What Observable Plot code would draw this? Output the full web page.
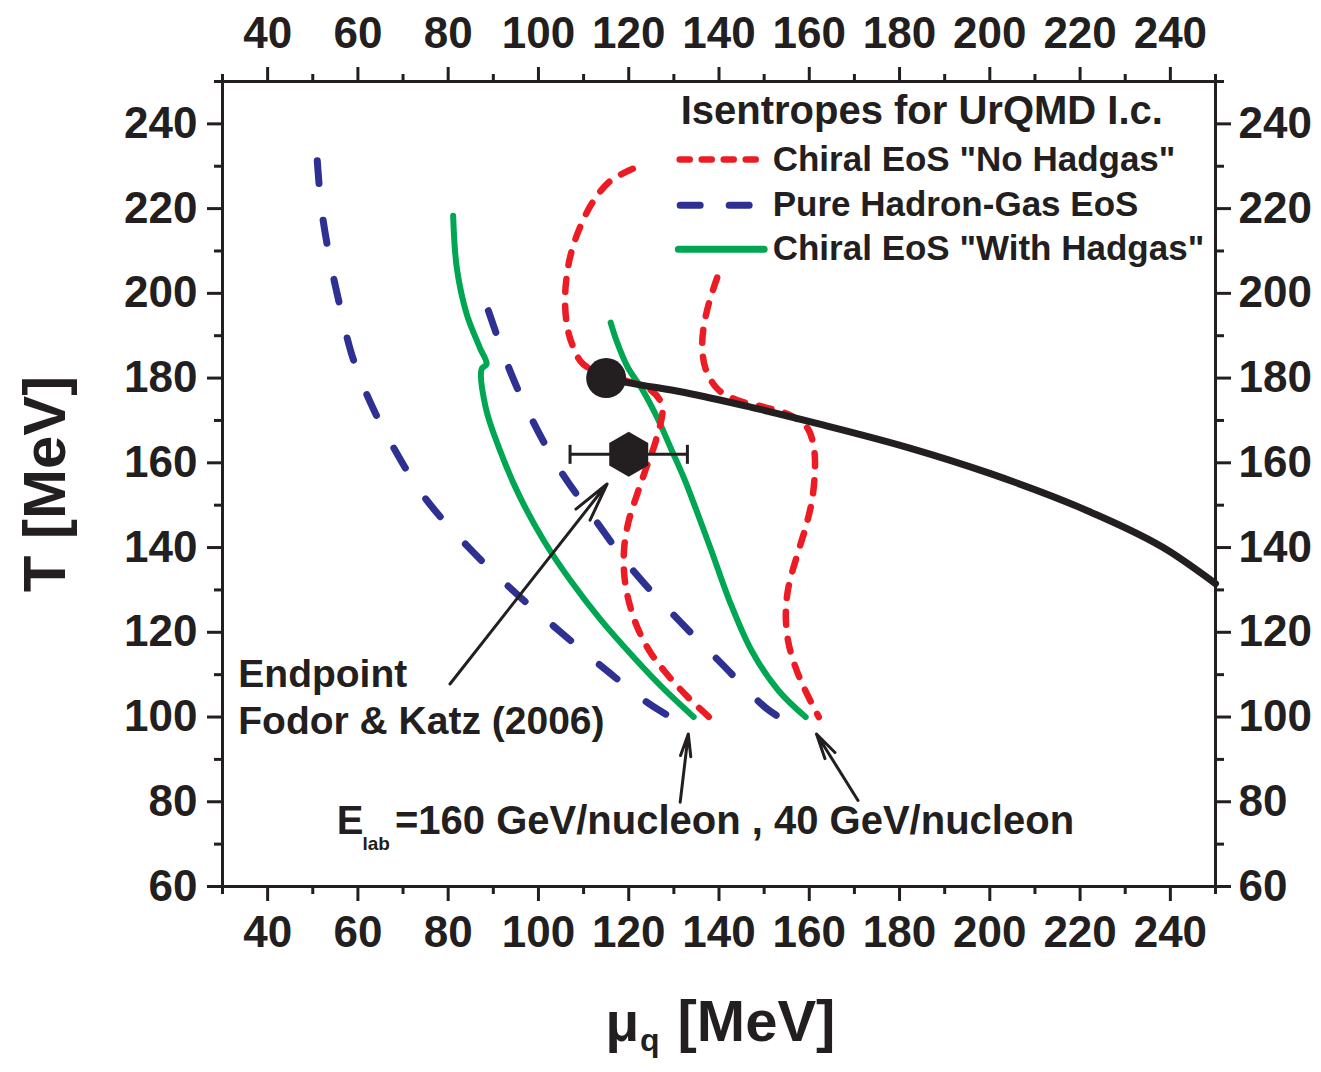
<!DOCTYPE html>
<html>
<head>
<meta charset="utf-8">
<script src="https://cdn.jsdelivr.net/npm/d3@7"></script>
<script src="https://cdn.jsdelivr.net/npm/@observablehq/plot@0.6"></script>
<style>
  html, body { margin: 0; padding: 0; background: #ffffff; }
  #chart svg { display: block; }
</style>
</head>
<body>
<div id="chart"></div>
<script>
// Isentropes in the (mu_q, T) plane for UrQMD initial conditions.
// Each curve is a list of [mu_q (MeV), T (MeV)] pairs.

// Chiral EoS "No Hadgas"
const chiralNoHadgas160 = [[120.9,229.4],[116.0,226.6],[112.0,221.5],[108.9,214.8],[107.0,208.5],[106.1,202.5],[105.9,197.5],[106.4,192.0],[107.6,187.6],[109.8,183.4],[114.5,180.8],[119.6,179.3],[124.8,177.2],[127.4,173.5],[126.0,165.2],[123.9,158.9],[121.9,152.7],[120.0,146.3],[119.0,140.0],[119.0,133.7],[120.0,127.4],[121.9,121.2],[124.6,115.6],[128.4,110.2],[133.1,104.7],[137.8,100.0]];
const chiralNoHadgas40 = [[139.6,203.7],[137.9,198.2],[136.6,192.0],[136.3,187.5],[137.0,182.3],[139.8,177.3],[144.3,174.7],[150.2,173.1],[155.4,171.4],[159.6,168.2],[161.1,162.9],[161.2,157.4],[160.6,151.1],[159.2,144.8],[157.2,137.8],[155.4,130.7],[154.8,124.4],[155.3,118.0],[156.7,112.5],[158.8,107.0],[162.1,100.0]];

// Pure Hadron-Gas EoS
const hadronGas160 = [[51.0,231.3],[51.9,220.3],[53.7,208.5],[55.9,197.5],[58.6,185.7],[62.6,174.6],[67.9,163.6],[74.8,151.8],[84.2,140.4],[94.4,129.8],[105.3,119.7],[116.0,110.2],[124.4,103.2],[129.3,100.0]];
const hadronGas40 = [[88.9,195.9],[93.7,181.7],[98.4,170.6],[104.6,158.6],[112.2,147.1],[120.4,135.3],[129.4,124.7],[140.3,112.9],[150.2,102.3],[153.3,100.0]];

// Chiral EoS "With Hadgas"
const chiralWithHadgas160 = [[81.1,218.3],[81.9,206.1],[84.1,195.1],[87.0,187.2],[88.5,183.3],[87.4,182.1],[88.3,173.1],[91.2,163.7],[95.6,152.6],[101.2,141.6],[107.1,132.2],[113.9,122.8],[121.1,114.1],[127.6,106.8],[134.4,100.0]];
const chiralWithHadgas40 = [[116.0,193.1],[117.4,188.5],[119.8,182.5],[122.9,177.5],[126.3,170.7],[129.3,163.5],[132.2,156.5],[135.1,148.5],[138.3,139.3],[142.3,127.5],[147.2,115.7],[153.2,106.2],[159.2,100.0]];

// First-order transition line starting at the critical endpoint
const transitionLine = [[115.0,180.0],[119.5,179.0],[132.4,176.6],[147.2,173.1],[162.1,169.2],[181.9,163.6],[200.0,157.5],[221.6,148.7],[239.5,139.3],[250.0,131.5]];
const modelEndpoint = [[115.0,180.0]];

// Lattice endpoint, Fodor & Katz (2006): mu_q, T, error in mu_q
const latticeEndpoint = [{mu: 120.0, T: 162.0, err: 13.0}];

// Annotation arrows: [mu1, T1, mu2, T2]
const arrows = [[80.4,107.8,115.2,155.0],[131.4,79.9,133.2,96.0],[170.8,80.3,161.6,96.0]];

// Axis ticks
const muMajor = d3.range(40, 241, 20);
const muMinor = d3.range(30, 251, 20);
const tMajor = d3.range(60, 241, 20);
const tMinor = d3.range(70, 251, 20);

// Legend
const legendTitle = "Isentropes for UrQMD I.c.";
const legendLabels = ['Chiral EoS "No Hadgas"', "Pure Hadron-Gas EoS", 'Chiral EoS "With Hadgas"'];
const legendT = [231.6, 220.8, 210.4];

const font = "'Liberation Sans', Arial, Helvetica, sans-serif";
const RED = "#ed1c24", BLUE = "#2e3192", GREEN = "#00a651", INK = "#231f20";

const redStyle = {stroke: RED, strokeWidth: 6.5, strokeDasharray: "13,14", strokeLinecap: "round"};
const blueStyle = {stroke: BLUE, strokeWidth: 7, strokeDasharray: "23,37", strokeLinecap: "round"};
const greenStyle = {stroke: GREEN, strokeWidth: 6};

const X = d => d[0], Y = d => d[1];
const curve = "catmull-rom";

// vertical bar used for the error-bar caps
const capSymbol = {
  draw(ctx, size) {
    const r = Math.sqrt(size / Math.PI);
    ctx.moveTo(0, -r);
    ctx.lineTo(0, r);
  }
};

// hexagon with a vertex at top and bottom and vertical sides
const pointyHexagon = {
  draw(ctx, size) {
    const rx = Math.sqrt(size / Math.PI), ry = rx * 2 / Math.sqrt(3), hy = ry / 2;
    ctx.moveTo(0, -ry);
    ctx.lineTo(rx, -hy);
    ctx.lineTo(rx, hy);
    ctx.lineTo(0, ry);
    ctx.lineTo(-rx, hy);
    ctx.lineTo(-rx, -hy);
    ctx.closePath();
  }
};

const axisText = {fontSize: 44, fontWeight: "bold", fontFamily: font, label: null, strokeWidth: 3, tickFormat: d => String(d)};
const minorTick = {tickSize: 8, strokeWidth: 3, fill: "none", label: null};

const legendRows = legendLabels.map((label, i) => ({label, T: legendT[i]}));
const boldText = {textAnchor: "start", lineAnchor: "bottom", fontWeight: "bold", fill: INK};

const chart = Plot.plot({
  width: 1321,
  height: 1072,
  marginLeft: 222,
  marginRight: 106,
  marginTop: 81,
  marginBottom: 186,
  x: {domain: [30, 250]},
  y: {domain: [60, 250]},
  style: {fontFamily: font, color: INK, background: "#ffffff", overflow: "visible"},
  marks: [
    // axes on all four sides
    Plot.axisX(muMinor, {anchor: "bottom", ...minorTick}),
    Plot.axisX(muMinor, {anchor: "top", ...minorTick}),
    Plot.axisY(tMinor, {anchor: "left", ...minorTick}),
    Plot.axisY(tMinor, {anchor: "right", ...minorTick}),
    Plot.axisX(muMajor, {anchor: "bottom", tickSize: 15, tickPadding: 14, ...axisText}),
    Plot.axisX(muMajor, {anchor: "top", tickSize: 15, tickPadding: 19, ...axisText}),
    Plot.axisY(tMajor, {anchor: "left", tickSize: 15, tickPadding: 10, ...axisText}),
    Plot.axisY(tMajor, {anchor: "right", tickSize: 15, tickPadding: 8, ...axisText}),

    // isentropes
    Plot.line(hadronGas160, {x: X, y: Y, curve, ...blueStyle}),
    Plot.line(hadronGas40, {x: X, y: Y, curve, ...blueStyle}),
    Plot.line(chiralWithHadgas160, {x: X, y: Y, curve, ...greenStyle}),
    Plot.line(chiralWithHadgas40, {x: X, y: Y, curve, ...greenStyle}),
    Plot.line(chiralNoHadgas160, {x: X, y: Y, curve, ...redStyle}),
    Plot.line(chiralNoHadgas40, {x: X, y: Y, curve, ...redStyle}),

    // transition line and endpoints
    Plot.line(transitionLine, {x: X, y: Y, curve: "monotone-x", stroke: INK, strokeWidth: 7}),
    Plot.dot(modelEndpoint, {x: X, y: Y, r: 20, fill: INK}),
    Plot.ruleY(latticeEndpoint, {y: "T", x1: d => d.mu - d.err, x2: d => d.mu + d.err, stroke: INK, strokeWidth: 3}),
    Plot.dot(latticeEndpoint.flatMap(d => [{mu: d.mu - d.err, T: d.T}, {mu: d.mu + d.err, T: d.T}]),
      {x: "mu", y: "T", symbol: capSymbol, r: 9.5, stroke: INK, strokeWidth: 3, fill: "none"}),
    Plot.dot(latticeEndpoint, {x: "mu", y: "T", symbol: pointyHexagon, r: 19.5, fill: INK}),

    // annotation arrows
    Plot.arrow(arrows, {x1: d => d[0], y1: d => d[1], x2: d => d[2], y2: d => d[3],
      stroke: INK, strokeWidth: 3, headLength: 20, headAngle: 26}),

    // annotations
    Plot.text(["Endpoint"], {x: 33.5, y: 107.2, text: d => d, fontSize: 39, ...boldText}),
    Plot.text(["Fodor & Katz (2006)"], {x: 33.5, y: 96.1, text: d => d, fontSize: 39, ...boldText}),
    Plot.text(["E"], {x: 55.3, y: 72.5, text: d => d, fontSize: 40, ...boldText}),
    Plot.text(["lab"], {x: 61.0, y: 68.5, text: d => d, fontSize: 19, ...boldText}),
    Plot.text(["=160 GeV/nucleon , 40 GeV/nucleon"], {x: 68.2, y: 72.5, text: d => d, fontSize: 40, ...boldText}),

    // legend
    Plot.text([legendTitle], {x: 131.5, y: 240, text: d => d, fontSize: 40, ...boldText}),
    Plot.line([[131.3, legendT[0]], [148.2, legendT[0]]], {x: X, y: Y, stroke: RED, strokeWidth: 6.5, strokeDasharray: "10,12", strokeLinecap: "round"}),
    Plot.line([[131.4, legendT[1]], [146.8, legendT[1]]], {x: X, y: Y, stroke: BLUE, strokeWidth: 7, strokeDasharray: "20,29", strokeLinecap: "round"}),
    Plot.line([[131.0, legendT[2]], [150.0, legendT[2]]], {x: X, y: Y, stroke: GREEN, strokeWidth: 7}),
    Plot.text(legendRows, {x: 151.9, y: "T", text: "label", textAnchor: "start", lineAnchor: "middle",
      fontSize: 35, fontWeight: "bold", fill: INK}),

    // axis titles
    Plot.text(["T [MeV]"], {frameAnchor: "left", text: d => d, dx: -177, rotate: -90, textAnchor: "middle",
      lineAnchor: "middle", fontSize: 60, fontWeight: "bold", fill: INK}),
    Plot.text(["\u03bc"], {frameAnchor: "bottom", text: d => d, dx: -113.5, dy: 154, fontSize: 55, ...boldText}),
    Plot.text(["q"], {frameAnchor: "bottom", text: d => d, dx: -79, dy: 164, fontSize: 32, ...boldText}),
    Plot.text(["[MeV]"], {frameAnchor: "bottom", text: d => d, dx: -41.5, dy: 154, fontSize: 58, ...boldText}),

    Plot.frame({stroke: INK, strokeWidth: 3})
  ]
});

document.getElementById("chart").appendChild(chart);
</script>
</body>
</html>
